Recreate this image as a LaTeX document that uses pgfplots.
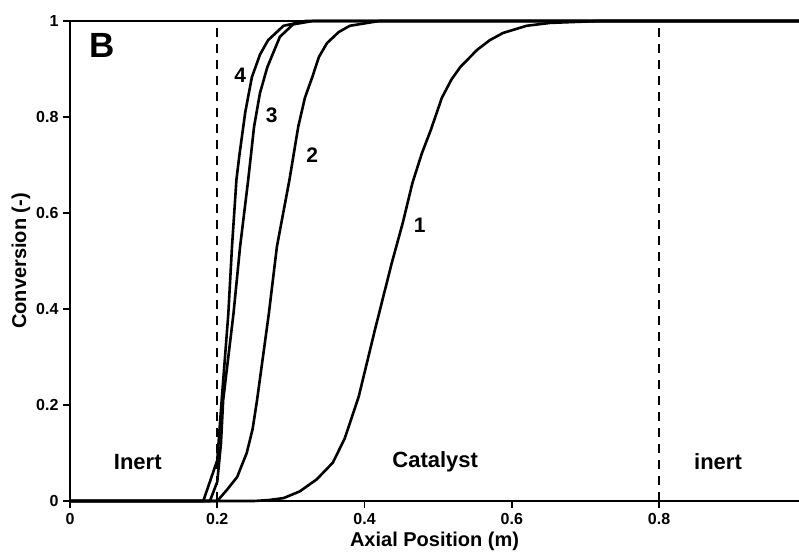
\documentclass[border=0pt]{standalone}
\usepackage{fontspec}
\setmainfont{Liberation Sans}
\usepackage{pgfplots}
\pgfplotsset{compat=1.18}
\begin{document}
\begin{tikzpicture}
\begin{axis}[
  name=ax,
  scale only axis,
  width=729pt, height=480pt,
  xmin=0, xmax=0.99, ymin=0, ymax=1,
  axis lines=left,
  axis line style={line width=2.6pt, -},
  xtick={0,0.2,0.4,0.6,0.8},
  ytick={0,0.2,0.4,0.6,0.8,1},
  xticklabels={0,0.2,0.4,0.6,0.8},
  yticklabels={0,0.2,0.4,0.6,0.8,1},
  tick align=outside,
  major tick length=7pt,
  tick style={line width=1.8pt, black},
  ticklabel style={font=\fontsize{16}{16}\selectfont\bfseries},
  xticklabel style={yshift=-2pt},
  yticklabel style={xshift=-1pt},
  /pgf/number format/assume math mode=true,
  xlabel={Axial Position (m)},
  ylabel={Conversion (-)},
  label style={font=\fontsize{20}{20}\selectfont\bfseries},
  xlabel style={at={(axis description cs:0.5,0)}, anchor=center, yshift=-40pt},
  ylabel style={at={(axis description cs:0,0.5)}, anchor=center, yshift=49pt},
  clip=false,
]
\addplot[black, line width=2.6pt] coordinates {(0,1) (0.99,1)};
\addplot[black, line width=2.2pt, dash pattern=on 9pt off 7pt] coordinates {(0.2,0) (0.2,1)};
\addplot[black, line width=2.2pt, dash pattern=on 9pt off 7pt] coordinates {(0.8,0) (0.8,1)};
% curve 1
\addplot[black, line width=2.6pt, line join=round] coordinates {
(0,0) (0.25,0) (0.27,0.002) (0.29,0.006) (0.312,0.02) (0.335,0.045) (0.357,0.08) (0.373,0.13) (0.392,0.217) (0.414,0.356) (0.437,0.496) (0.452,0.58) (0.465,0.6625) (0.478,0.725) (0.49,0.773) (0.505,0.84) (0.518,0.878) (0.53,0.904) (0.553,0.94) (0.57,0.96) (0.588,0.975) (0.62,0.99) (0.652,0.996) (0.72,1) (0.99,1)};
% curve 2
\addplot[black, line width=2.6pt, line join=round] coordinates {
(0,0) (0.2,0) (0.213,0.023) (0.227,0.05) (0.24,0.1) (0.248,0.15) (0.254,0.21) (0.262,0.3) (0.27,0.39) (0.281,0.53) (0.298,0.669) (0.31,0.78) (0.319,0.84) (0.329,0.883) (0.338,0.925) (0.349,0.954) (0.365,0.977) (0.38,0.99) (0.42,1) (0.99,1)};
% curve 3
\addplot[black, line width=2.6pt, line join=round] coordinates {
(0,0) (0.19,0) (0.2,0.04) (0.205,0.12) (0.208,0.21) (0.215,0.3) (0.222,0.39) (0.231,0.53) (0.242,0.669) (0.25,0.78) (0.258,0.85) (0.268,0.904) (0.285,0.967) (0.303,0.993) (0.33,1) (0.99,1)};
% curve 4
\addplot[black, line width=2.6pt, line join=round] coordinates {
(0,0) (0.181,0) (0.2,0.085) (0.206,0.21) (0.215,0.39) (0.22,0.53) (0.226,0.669) (0.23,0.72) (0.238,0.81) (0.247,0.883) (0.258,0.93) (0.269,0.96) (0.29,0.99) (0.32,1) (0.99,1)};
\node[font=\fontsize{35}{35}\selectfont\bfseries] at (axis cs:0.043,0.95) {B};
\node[font=\fontsize{21}{21}\selectfont\bfseries] at (axis cs:0.231,0.887) {4};
\node[font=\fontsize{21}{21}\selectfont\bfseries] at (axis cs:0.274,0.804) {3};
\node[font=\fontsize{21}{21}\selectfont\bfseries] at (axis cs:0.329,0.721) {2};
\node[font=\fontsize{21}{21}\selectfont\bfseries] at (axis cs:0.475,0.575) {1};
\node[font=\fontsize{22}{22}\selectfont\bfseries] at (axis cs:0.092,0.081) {Inert};
\node[font=\fontsize{22}{22}\selectfont\bfseries] at (axis cs:0.496,0.081) {Catalyst};
\node[font=\fontsize{22}{22}\selectfont\bfseries] at (axis cs:0.880,0.081) {inert};
\end{axis}
\pgfresetboundingbox
\path ([xshift=-70pt,yshift=-52pt]ax.south west) rectangle ([yshift=21pt]ax.north east);
\end{tikzpicture}
\end{document}
